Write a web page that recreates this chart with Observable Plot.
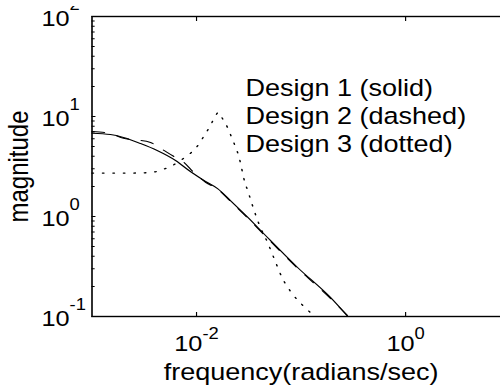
<!DOCTYPE html>
<html>
<head>
<meta charset="utf-8">
<script src="https://cdn.jsdelivr.net/npm/d3@7"></script>
<script src="https://cdn.jsdelivr.net/npm/@observablehq/plot@0.6"></script>
<style>
  html, body { margin: 0; padding: 0; background: white; overflow: hidden; width: 500px; height: 388px; }
  #chart { padding-top: 6px; }
  #chart svg { transform: scaleX(1.15); transform-origin: 0 0; overflow: hidden !important; }
</style>
</head>
<body>
<div id="chart"></div>
<script>
// ---- data ----
const solidFreq = [0.001, 0.0015, 0.002, 0.0029, 0.0042, 0.0063, 0.0088, 0.0122, 0.0159, 0.0211, 0.0308, 0.0438, 0.0926, 0.191, 0.28];
const solidMag  = [6.8, 6.6, 6.17, 5.37, 4.57, 3.63, 2.8, 2.24, 1.9, 1.445, 0.984, 0.676, 0.309, 0.155, 0.1];

const dashedFreq = [0.001, 0.0015, 0.002, 0.0026, 0.00363, 0.00453, 0.00603, 0.00752, 0.00936, 0.0122, 0.0159, 0.0211, 0.0308, 0.0438, 0.0926, 0.191, 0.283];
const dashedMag  = [7.08, 6.76, 6.05, 5.85, 5.5, 4.8, 4.0, 3.5, 2.78, 2.2, 1.88, 1.42, 0.97, 0.665, 0.304, 0.152, 0.1];

const dottedFreq = [0.001, 0.00233, 0.00363, 0.00473, 0.00564, 0.00703, 0.0082, 0.00978, 0.0122, 0.0136, 0.0152, 0.0162, 0.0177, 0.0198, 0.0211, 0.0231, 0.0247, 0.0264, 0.0282, 0.0308, 0.0329, 0.0348, 0.0401, 0.0478, 0.0557, 0.0658, 0.082, 0.109, 0.136];
const dottedMag  = [2.72, 2.72, 2.75, 2.95, 3.16, 3.63, 4.07, 4.79, 6.76, 8.13, 10.2, 11.0, 9.55, 7.76, 6.61, 5.25, 4.37, 3.39, 2.45, 1.82, 1.48, 1.23, 0.813, 0.55, 0.372, 0.245, 0.17, 0.123, 0.1];

const xTickValues = [1e-2, 1e0];
const xTickExponents = ["-2", "0"];
const yTickValues = [1e-1, 1e0, 1e1, 1e2];
const yTickExponents = ["-1", "0", "1", "2"];
const legendLabels = ["Design 1 (solid)", "Design 2 (dashed)", "Design 3 (dotted)"];
const xLabel = "frequency(radians/sec)";
const yLabel = "magnitude";

// ---- build tables ----
const toRows = (f, m) => f.map((v, i) => ({freq: v, mag: m[i]}));
const solid = toRows(solidFreq, solidMag);
const dashed = toRows(dashedFreq, dashedMag);
const dotted = toRows(dottedFreq, dottedMag);

const yDomain = [0.1, 100];
const yMinor = d3.scaleLog().domain(yDomain).ticks().filter(v => Math.abs(Math.log10(v) - Math.round(Math.log10(v))) > 1e-6);

const baseSize = 22, expSize = 16;
const charW = c => (c === "-" ? 0.333 : 0.556);
const strW = (s, size) => [...s].reduce((a, c) => a + charW(c), 0) * size;

const xTickLabelMarks = xTickValues.flatMap((v, i) => {
  const off = (strW("10", baseSize) - strW(xTickExponents[i], expSize)) / 2;
  return [
    Plot.text([v], {x: d => d, text: () => "10", frameAnchor: "bottom", textAnchor: "end", lineAnchor: "middle", dx: off, dy: 27, fontSize: baseSize}),
    Plot.text([v], {x: d => d, text: () => xTickExponents[i], frameAnchor: "bottom", textAnchor: "start", lineAnchor: "middle", dx: off, dy: 16.9, fontSize: expSize})
  ];
});

const legendMarks = legendLabels.map((t, i) =>
  Plot.text([t], {text: d => d, frameAnchor: "top-left", textAnchor: "start", lineAnchor: "middle", dx: 133.4, dy: 71.5 + i * 28.35, fontSize: 23.5})
);

const plot = Plot.plot({
  width: 444,
  height: 382,
  marginLeft: 79.5,
  marginRight: 0.9,
  marginTop: 10,
  marginBottom: 72,
  x: {type: "log", domain: [1e-3, 1e1], axis: null},
  y: {type: "log", domain: yDomain, axis: null},
  style: {fontFamily: "'Liberation Sans', Arial, Helvetica, sans-serif", color: "black", background: "white"},
  marks: [
    Plot.axisX(xTickValues, {anchor: "bottom", tickSize: -4, tickFormat: () => "", label: null, strokeWidth: 1}),
    Plot.axisX(xTickValues, {anchor: "top", tickSize: -4, tickFormat: () => "", label: null, strokeWidth: 1}),
    Plot.axisY(yTickValues, {anchor: "left", tickSize: -3.5, tickFormat: () => "", label: null, strokeWidth: 1}),
    Plot.axisY(yMinor, {anchor: "left", tickSize: -2.8, tickFormat: () => "", label: null, strokeWidth: 1}),
    Plot.frame({stroke: "black", strokeWidth: 1.4}),
    Plot.line(dotted, {x: "freq", y: "mag", stroke: "black", strokeWidth: 1.3, strokeDasharray: "1.3,7.8", curve: "monotone-x"}),
    Plot.line(dashed, {x: "freq", y: "mag", stroke: "black", strokeWidth: 1.1, strokeDasharray: "11,11", curve: "monotone-x"}),
    Plot.line(solid, {x: "freq", y: "mag", stroke: "black", strokeWidth: 1.1, curve: "monotone-x"}),
    Plot.text(yTickValues, {y: d => d, text: () => "10", frameAnchor: "left", textAnchor: "end", lineAnchor: "middle", dx: -19.5, dy: 2.7, fontSize: baseSize}),
    Plot.text(yTickValues, {y: d => d, text: (d, i) => yTickExponents[i], frameAnchor: "left", textAnchor: "start", lineAnchor: "middle", dx: -19.5, dy: -11.6, fontSize: expSize}),
    ...xTickLabelMarks,
    ...legendMarks,
    Plot.text([xLabel], {text: d => d, frameAnchor: "bottom", textAnchor: "middle", lineAnchor: "middle", dy: 55.5, fontSize: 23.5}),
    Plot.text([yLabel], {text: d => d, frameAnchor: "left", textAnchor: "middle", lineAnchor: "middle", rotate: -90, dx: -63.7, fontSize: 24})
  ]
});
document.getElementById("chart").appendChild(plot);
</script>
</body>
</html>
